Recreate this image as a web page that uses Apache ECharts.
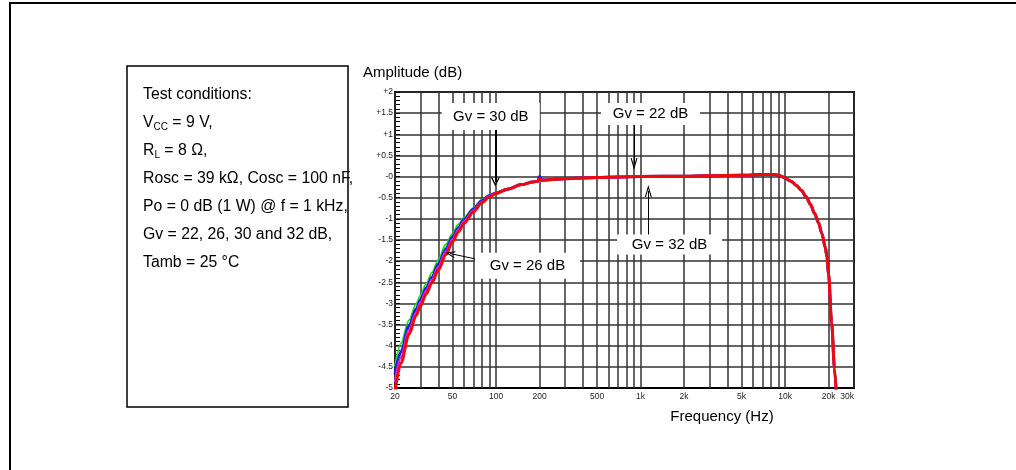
<!DOCTYPE html>
<html>
<head>
<meta charset="utf-8">
<script src="https://cdn.jsdelivr.net/npm/echarts@6/dist/echarts.min.js"></script>
<style>
  html, body { margin: 0; padding: 0; background: #fff; }
  #chart { width: 1016px; height: 470px; }
</style>
</head>
<body>
<div id="chart"></div>
<script>
// Frequency response, 20 Hz .. 30 kHz, four closed-loop gains
const freqHz = [20, 22, 25, 28, 30, 33, 36, 40, 45, 50, 55, 60, 70, 80, 90, 100, 120, 150, 180, 195, 200, 205,
  220, 300, 500, 700, 1000, 2000, 3000, 5000, 7000, 8000, 8500, 9000, 9500, 10000, 11000, 12000, 13000,
  14000, 15000, 16000, 17000, 18000, 19000, 19500, 20000, 21000, 22000, 23000];

// Low-frequency part (20 .. 205 Hz), one array per gain setting
const gv22Low = [-4.49, -3.94, -3.40, -3.02, -2.81, -2.53, -2.27, -1.96, -1.60, -1.35, -1.13, -0.97, -0.74,
  -0.54, -0.44, -0.38, -0.29, -0.19, -0.13, -0.11, -0.09, -0.08];
const gv26Low = [-4.68, -4.14, -3.53, -3.14, -2.92, -2.63, -2.38, -2.07, -1.71, -1.43, -1.21, -1.02, -0.77,
  -0.57, -0.45, -0.39, -0.30, -0.19, -0.13, -0.11, 0.00, -0.07];
const gv30Low = [-4.86, -4.28, -3.63, -3.22, -2.98, -2.70, -2.44, -2.13, -1.78, -1.49, -1.26, -1.06, -0.80,
  -0.60, -0.46, -0.39, -0.30, -0.19, -0.13, -0.11, -0.08, -0.09];
const gv32Low = [-5.08, -4.41, -3.73, -3.29, -3.06, -2.77, -2.51, -2.20, -1.85, -1.54, -1.31, -1.11, -0.83,
  -0.62, -0.48, -0.40, -0.30, -0.19, -0.13, -0.11, -0.06, -0.09];

// Above 220 Hz the four responses lie on top of each other
const commonHigh = [-0.08, -0.05, -0.02, -0.01, 0, 0.01, 0.02, 0.03, 0.05, 0.05, 0.05, 0.03, 0.00, -0.04,
  -0.11, -0.21, -0.33, -0.48, -0.66, -0.87, -1.08, -1.35, -1.68, -1.90, -2.30, -3.45, -4.55, -5.60];

// Log grid: 1..9 per decade
const gridFreqs = [20, 30, 40, 50, 60, 70, 80, 90, 100, 200, 300, 400, 500, 600, 700, 800, 900,
  1000, 2000, 3000, 4000, 5000, 6000, 7000, 8000, 9000, 10000, 20000, 30000];
const freqTickFreqs = [20, 50, 100, 200, 500, 1000, 2000, 5000, 10000, 20000, 30000];
const freqTickLabels = ['20', '50', '100', '200', '500', '1k', '2k', '5k', '10k', '20k', '30k'];

// Gain callouts: label centre [Hz, dB] and arrow [from, to]
const noteTexts = ['Gv = 30 dB', 'Gv = 22 dB', 'Gv = 32 dB', 'Gv = 26 dB'];
const noteAnchors = [[92, 1.42], [1172, 1.48], [1589, -1.605], [165, -2.11]];
const noteArrows = [
  [[99, 1.10], [99, -0.13]],
  [[902, 1.22], [902, 0.30]],
  [[1132, -1.38], [1132, -0.34]],
  [[72.6, -1.95], [48, -1.82]]
];

const conditionLines = [
  '{n|Test conditions:}',
  '{n|V}{s|CC}{n| = 9 V,}',
  '{n|R}{s|L}{n| = 8 Ω,}',
  '{n|Rosc = 39 kΩ, Cosc = 100 nF,}',
  '{n|Po = 0 dB (1 W) @ f = 1 kHz,}',
  '{n|Gv = 22, 26, 30 and 32 dB,}',
  '{n|Tamb = 25 °C}'
];

const FONT = '"Liberation Sans", Arial, Helvetica, sans-serif';
const GRID = { left: 395, top: 92, width: 459, height: 296 };

const pairs = (low) => freqHz.map((f, i) => [f, i < low.length ? low[i] : commonHigh[i - low.length]]);

const noteBoxSizes = [[98, 27], [99, 22], [105, 20], [105, 26]];
const noteArrowStyles = [
  { width: 2, size: [9, 9] },
  { width: 1, size: [7, 12] },
  { width: 1, size: [7, 12] },
  { width: 1, size: [7, 10] }
];
const CHEVRON = 'path://M5,0 L10,10 L8.4,10 L5,3.2 L1.6,10 L0,10 Z';

const chart = echarts.init(document.getElementById('chart'), null, { renderer: 'canvas' });

const curveSeries = (name, low, color, width) => ({
  name, type: 'line', data: pairs(low), showSymbol: false, symbol: 'none',
  smooth: 0.3, smoothMonotone: 'x', clip: true, lineStyle: { color, width }, z: 2, silent: true
});

const option = {
  animation: false,
  backgroundColor: '#fff',
  textStyle: { fontFamily: FONT },
  grid: Object.assign({ show: true, borderColor: '#000', borderWidth: 2, backgroundColor: 'transparent' }, GRID),
  xAxis: {
    type: 'log', logBase: 10, min: 20, max: 30000,
    axisLine: { show: true, onZero: false, lineStyle: { color: '#000', width: 2 } },
    axisTick: { show: false }, axisLabel: { show: false },
    splitLine: { show: false }, minorTick: { show: false }
  },
  yAxis: {
    type: 'value', min: -5, max: 2, interval: 0.5,
    axisLine: { show: true, onZero: false, lineStyle: { color: '#000', width: 2 } },
    axisTick: { show: true, inside: true, length: 5, lineStyle: { color: '#000', width: 1 } },
    minorTick: { show: true, splitNumber: 5, length: 5, lineStyle: { color: '#000', width: 1 } },
    axisLabel: {
      margin: 2, fontSize: 8.5, color: '#222', fontFamily: FONT,
      formatter: (v) => v > 0 ? '+' + v : (v === 0 ? '-0' : String(v))
    },
    splitLine: { show: true, lineStyle: { color: '#333', width: 1.5 } }
  },
  graphic: [
    { type: 'polyline', shape: { points: [[10, 470], [10, 3], [1016, 3]] },
      style: { stroke: '#000', lineWidth: 2, fill: 'none' } },
    { type: 'rect', shape: { x: 127, y: 66, width: 221, height: 341 },
      style: { fill: 'none', stroke: '#000', lineWidth: 1.5 } },
    ...conditionLines.map((t, i) => ({
      type: 'text', x: 143, y: 95 + i * 28,
      style: {
        text: t, verticalAlign: 'middle', align: 'left',
        rich: {
          n: { fontSize: 15.8, fontFamily: FONT, fill: '#000', lineHeight: 19 },
          s: { fontSize: 10, fontFamily: FONT, fill: '#000', lineHeight: 10, verticalAlign: 'bottom' }
        }
      }
    })),
    { type: 'text', x: 363, y: 73,
      style: { text: 'Amplitude (dB)', font: '15px ' + FONT, fill: '#000', align: 'left', verticalAlign: 'middle' } },
    { type: 'text', x: 722, y: 417,
      style: { text: 'Frequency (Hz)', font: '15px ' + FONT, fill: '#000', align: 'center', verticalAlign: 'middle' } }
  ],
  series: [
    {
      name: 'grid', type: 'line', data: [], silent: true,
      markLine: {
        silent: true, symbol: 'none', z: 1, animation: false,
        lineStyle: { color: '#333', width: 1.5, type: 'solid' },
        label: { show: false },
        emphasis: { disabled: true },
        data: gridFreqs.map((f) => {
          const k = freqTickFreqs.indexOf(f);
          return {
            xAxis: f,
            label: k < 0 ? { show: false } : {
              show: true, position: 'start', distance: 4, formatter: freqTickLabels[k],
              fontSize: 8.5, color: '#222', fontFamily: FONT,
              align: f === 30000 ? 'right' : 'center'
            }
          };
        })
      }
    },
    curveSeries('Gv = 22 dB', gv22Low, '#22dd22', 2),
    curveSeries('Gv = 26 dB', gv26Low, '#1a1aee', 3),
    curveSeries('Gv = 30 dB', gv30Low, '#ee22dd', 2.5),
    curveSeries('Gv = 32 dB', gv32Low, '#ee0a0a', 3),
    {
      name: 'notes', type: 'line', data: [], silent: true,
      markLine: {
        silent: true, z: 10, animation: false,
        label: { show: false }, emphasis: { disabled: true },
        data: noteArrows.map((a, i) => [
          { coord: a[0], symbol: 'none', lineStyle: { color: '#000', width: noteArrowStyles[i].width, type: 'solid' } },
          { coord: a[1], symbol: CHEVRON, symbolSize: noteArrowStyles[i].size }
        ])
      },
      markPoint: {
        silent: true, z: 11, animation: false,
        data: noteTexts.map((t, i) => ({
          coord: noteAnchors[i], symbol: 'rect', symbolSize: noteBoxSizes[i],
          itemStyle: { color: '#fff' },
          label: { show: true, position: 'inside', formatter: t, color: '#000', fontSize: 15, fontFamily: FONT }
        }))
      }
    }
  ]
};

chart.setOption(option);
</script>
</body>
</html>
